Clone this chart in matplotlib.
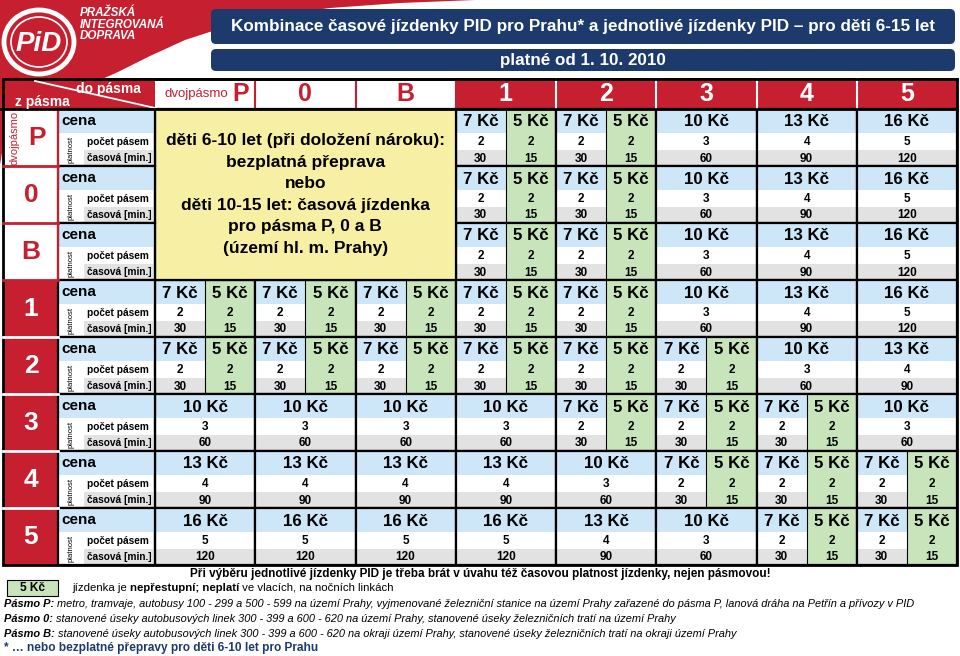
import matplotlib.pyplot as plt
from matplotlib.patches import Rectangle, Polygon, FancyBboxPatch, Ellipse

plt.rcParams['font.family'] = ['Liberation Sans', 'DejaVu Sans']

zone_names = ['P', '0', 'B', '1', '2', '3', '4', '5']
# number of zones of the ticket needed, row = z pásma, column = do pásma
# 0 = covered by the free / time ticket note (yellow box)
zone_counts = [
    [0, 0, 0, 2, 2, 3, 4, 5],
    [0, 0, 0, 2, 2, 3, 4, 5],
    [0, 0, 0, 2, 2, 3, 4, 5],
    [2, 2, 2, 2, 2, 3, 4, 5],
    [2, 2, 2, 2, 2, 2, 3, 4],
    [3, 3, 3, 3, 2, 2, 2, 3],
    [4, 4, 4, 4, 3, 2, 2, 2],
    [5, 5, 5, 5, 4, 3, 2, 2],
]
ticket_zones = [2, 3, 4, 5]
ticket_fares = [7, 10, 13, 16]
ticket_minutes = [30, 60, 90, 120]
short_fare = 5
short_minutes = 15

free_note = ['děti 6-10 let (při doložení nároku):', 'bezplatná přeprava', 'nebo',
             'děti 10-15 let: časová jízdenka', 'pro pásma P, 0 a B', '(území hl. m. Prahy)']
title = 'Kombinace časové jízdenky PID pro Prahu* a jednotlivé jízdenky PID – pro děti 6-15 let'
subtitle = 'platné od 1. 10. 2010'

RED = '#c61f2f'
NAVY = '#1d3a6c'
BLUE = '#cde6f8'
GREEN = '#c8e4ba'
GRAY = '#e2e2e2'
YELLOW = '#f7f0a4'

fare_of = dict(zip(ticket_zones, ticket_fares))
minutes_of = dict(zip(ticket_zones, ticket_minutes))

fig = plt.figure(figsize=(9.6, 6.56), dpi=100)
ax = fig.add_axes([0, 0, 1, 1])
ax.set_xlim(0, 960)
ax.set_ylim(656, 0)
ax.axis('off')
renderer = fig.canvas.get_renderer()

TOP = 109
BLOCK = 57
SUB = [0, 24, 41, 57]
COL_X = [155 + i * 100.25 for i in range(9)]
BOTTOM = TOP + 8 * BLOCK


def fit_width(t, width):
    # shrink/grow a text so it spans the given number of pixels
    w = t.get_window_extent(renderer).width
    t.set_fontsize(t.get_fontsize() * width / w)


# red banner and logo
ax.add_patch(Polygon([(0, 0), (475, 0), (400, 3), (330, 8), (270, 16), (225, 27), (185, 40),
                      (150, 56), (118, 72), (100, 80), (30, 109), (9, 118), (4, 140), (0, 165)],
                     closed=True, fc=RED, lw=0))
ax.add_patch(Ellipse((39, 42), 70, 64, fill=False, ec='white', lw=3.5))
ax.add_patch(Ellipse((39, 42), 56, 50, fill=False, ec='white', lw=1.2))
ax.text(39, 44, 'PiD', color='white', fontsize=20, weight='bold', style='italic',
        ha='center', va='center')
for i, word in enumerate(['PRAŽSKÁ', 'INTEGROVANÁ', 'DOPRAVA']):
    ax.text(80, 13 + i * 11.5, word, color='white', fontsize=8.4, weight='bold', style='italic',
            va='center')

# title boxes
ax.add_patch(FancyBboxPatch((211, 9), 744, 35, boxstyle='round,pad=0,rounding_size=5',
                            fc=NAVY, ec='none'))
ax.add_patch(FancyBboxPatch((211, 49), 744, 22, boxstyle='round,pad=0,rounding_size=5',
                            fc=NAVY, ec='none'))
t = ax.text(583, 26, title, color='white', fontsize=12, weight='bold', ha='center', va='center')
fit_width(t, 700)
t = ax.text(583, 60, subtitle, color='white', fontsize=12, weight='bold', ha='center',
            va='center')
fit_width(t, 165)

# header row
ax.add_patch(Rectangle((0, 79), 155, 30, fc=RED, lw=0))
ax.plot([35, 155], [81, 108], color='white', lw=1.3)
ax.text(108, 89, 'do pásma', color='white', fontsize=10, weight='bold', ha='center', va='center')
ax.text(42, 102, 'z pásma', color='white', fontsize=10, weight='bold', ha='center', va='center')
for c, name in enumerate(zone_names):
    x0, x1 = COL_X[c], COL_X[c + 1]
    red = c >= 3
    ax.add_patch(Rectangle((x0, 79), x1 - x0, 30, fc=RED if red else 'white', lw=0))
    if c > 0:
        ax.plot([x0, x0], [79, 109], color='white' if red and c > 3 else RED, lw=1.5)
    if name == 'P':
        ax.text(228, 94, 'dvojpásmo', color=RED, fontsize=9.5, ha='right', va='center')
        ax.text(232, 94, 'P', color=RED, fontsize=18, weight='bold', ha='left', va='center')
    else:
        ax.text((x0 + x1) / 2, 94, name, color='white' if red else RED, fontsize=18,
                weight='bold', ha='center', va='center')
ax.plot([45, 957], [79, 79], color='black', lw=2)


def draw_ticket(x0, x1, top, fare, zones, minutes, green=False):
    fills = [GREEN] * 3 if green else [BLUE, 'white', GRAY]
    for i in range(3):
        ax.add_patch(Rectangle((x0, top + SUB[i]), x1 - x0, SUB[i + 1] - SUB[i],
                               fc=fills[i], lw=0))
    xc = (x0 + x1) / 2
    ax.text(xc, top + 13, f'{fare} Kč', fontsize=12.2, weight='bold', ha='center', va='center')
    ax.text(xc, top + 33, str(zones), fontsize=8.5, weight='bold', ha='center', va='center')
    ax.text(xc, top + 49.5, str(minutes), fontsize=8.5, weight='bold', ha='center', va='center')


# fare cells
for r in range(8):
    top = TOP + r * BLOCK
    for c in range(8):
        z = zone_counts[r][c]
        if z == 0:
            continue
        x0, x1 = COL_X[c], COL_X[c + 1]
        if z == 2:
            xm = (x0 + x1) / 2
            draw_ticket(x0, xm, top, fare_of[2], 2, minutes_of[2])
            draw_ticket(xm, x1, top, short_fare, 2, short_minutes, green=True)
            ax.plot([xm, xm], [top, top + BLOCK], color='black', lw=0.8)
        else:
            draw_ticket(x0, x1, top, fare_of[z], z, minutes_of[z])
        ax.add_patch(Rectangle((x0, top), x1 - x0, BLOCK, fill=False, ec='black', lw=1.6))

# free travel note
ax.add_patch(Rectangle((COL_X[0], TOP), COL_X[3] - COL_X[0], 3 * BLOCK, fc=YELLOW,
                       ec='black', lw=1.6))
for i, line in enumerate(free_note):
    ax.text((COL_X[0] + COL_X[3]) / 2, 141 + i * 21.5, line, fontsize=12.5, weight='bold',
            ha='center', va='center')

# row labels
for r, name in enumerate(zone_names):
    top = TOP + r * BLOCK
    red = r >= 3
    ax.add_patch(Rectangle((3, top), 55, BLOCK, fc=RED if red else 'white', lw=0))
    ax.text(31 if r else 37, top + 29, name, color='white' if red else RED, fontsize=19,
            weight='bold', ha='center', va='center')
    if r > 0:
        ax.plot([3, 58], [top, top], color='white' if r > 3 else RED, lw=2)
    ax.add_patch(Rectangle((58, top), 97, SUB[1], fc=BLUE, lw=0))
    ax.add_patch(Rectangle((84, top + SUB[2]), 71, SUB[3] - SUB[2], fc=GRAY, lw=0))
    ax.text(61, top + 12, 'cena', fontsize=11, weight='bold', va='center')
    ax.text(87, top + 33, 'počet pásem', fontsize=7.3, weight='bold', va='center')
    ax.text(87, top + 49, 'časová [min.]', fontsize=7.3, weight='bold', va='center')
    ax.text(71, top + 40, 'platnost', fontsize=5.5, rotation=90, ha='center', va='center')
    ax.add_patch(Rectangle((58, top), 97, BLOCK, fill=False, ec='black', lw=1.6))
ax.plot([58, 58], [TOP, TOP + 3 * BLOCK], color=RED, lw=1.5)
ax.text(14, 138, 'dvojpásmo', color=RED, fontsize=8, rotation=90, ha='center', va='center')
ax.add_patch(Rectangle((3, 79), 954, BOTTOM - 79, fill=False, ec='black', lw=2))
ax.plot([0, 957], [TOP, TOP], color='black', lw=2)


def text_run(x, y, parts, size, color='black'):
    for s, weight, style in parts:
        t = ax.text(x, y, s, fontsize=size, weight=weight, style=style, color=color,
                    va='center')
        x += t.get_window_extent(renderer).width


# footnotes
ax.text(480, 574, 'Při výběru jednotlivé jízdenky PID je třeba brát v úvahu též časovou '
        'platnost jízdenky, nejen pásmovou!', fontsize=8.5, weight='bold', ha='center',
        va='center')
ax.add_patch(Rectangle((7, 580), 51, 16, fc=GREEN, ec='black', lw=0.8))
ax.text(32.5, 588, f'{short_fare} Kč', fontsize=8.6, weight='bold', ha='center', va='center')
text_run(72, 588, [('jízdenka je ', 'normal', 'normal'), ('nepřestupní; neplatí', 'bold', 'normal'),
                   (' ve vlacích, na nočních linkách', 'normal', 'normal')], 8.2)
text_run(4, 604, [('Pásmo P:', 'bold', 'italic'),
                  (' metro, tramvaje, autobusy 100 - 299 a 500 - 599 na území Prahy, vyjmenované '
                   'železniční stanice na území Prahy zařazené do pásma P, lanová dráha na Petřín '
                   'a přívozy v PID', 'normal', 'italic')], 7.95)
text_run(4, 619, [('Pásmo 0:', 'bold', 'italic'),
                  (' stanovené úseky autobusových linek 300 - 399 a 600 - 620 na území Prahy, '
                   'stanovené úseky železničních tratí na území Prahy', 'normal', 'italic')], 7.95)
text_run(4, 634, [('Pásmo B:', 'bold', 'italic'),
                  (' stanovené úseky autobusových linek 300 - 399 a 600 - 620 na okraji území '
                   'Prahy, stanovené úseky železničních tratí na okraji území Prahy',
                   'normal', 'italic')], 7.95)
ax.text(4, 648, '* … nebo bezplatné přepravy pro děti 6-10 let pro Prahu', fontsize=8.6,
        weight='bold', color=NAVY, va='center')

fig.savefig('out.png', dpi=100)
